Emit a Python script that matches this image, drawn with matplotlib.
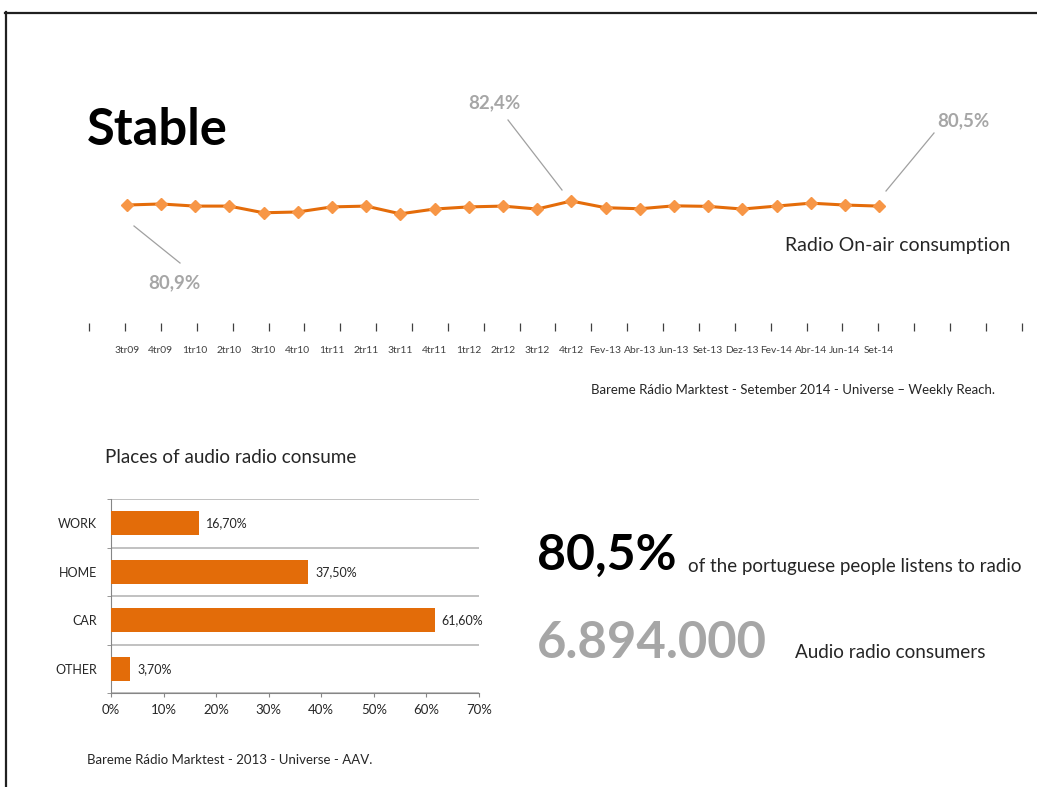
import matplotlib.pyplot as plt
from matplotlib.lines import Line2D

plt.rcParams['font.family'] = ['Lato', 'DejaVu Sans']

W, H = 1037, 787

# Radio on-air consumption (weekly reach, %)
periods = ['3tr09', '4tr09', '1tr10', '2tr10', '3tr10', '4tr10', '1tr11', '2tr11',
           '3tr11', '4tr11', '1tr12', '2tr12', '3tr12', '4tr12', 'Fev-13', 'Abr-13',
           'Jun-13', 'Set-13', 'Dez-13', 'Fev-14', 'Abr-14', 'Jun-14', 'Set-14']
reach = [80.9, 81.3, 80.5, 80.5, 78.0, 78.3, 80.2, 80.5, 77.6, 79.4, 80.2, 80.5,
         79.4, 82.4, 79.9, 79.5, 80.6, 80.4, 79.4, 80.5, 81.6, 80.9, 80.5]

# Places of audio radio consume (%)
places = ['WORK', 'HOME', 'CAR', 'OTHER']
place_share = [16.7, 37.5, 61.6, 3.7]
place_labels = ['16,70%', '37,50%', '61,60%', '3,70%']

ORANGE_LINE = '#E46C0A'
ORANGE_MARK = '#F79646'
BAR = '#E36C09'
GREY = '#A6A6A6'
DARK = '#262626'


def fx(px):
    return px / W


def fy(py):
    return 1 - py / H


def rect(left, top, right, bottom):
    return [fx(left), fy(bottom), fx(right) - fx(left), fy(top) - fy(bottom)]


fig = plt.figure(figsize=(W / 100, H / 100), dpi=100)

# frame lines (top and left)
fig.add_artist(Line2D([fx(5), fx(1037)], [fy(12.5), fy(12.5)], color='#202020', lw=1.6))
fig.add_artist(Line2D([fx(5.5), fx(5.5)], [fy(12), fy(787)], color='#202020', lw=1.6))

# --- line chart ---
x0, dx = 126.7, 34.2
ax = fig.add_axes(rect(80, 90, 1030, 327))
ax.set_xlim((80 - x0) / dx, (1030 - x0) / dx)
ax.set_ylim(35.2, 124.0)
idx = list(range(len(periods)))
ax.plot(idx, reach, color=ORANGE_LINE, lw=2.2, marker='D', ms=6,
        markerfacecolor=ORANGE_MARK, markeredgecolor=ORANGE_MARK, zorder=3)
for s in ax.spines.values():
    s.set_visible(False)
ax.set_yticks([])
ax.set_xticks(idx)
ax.set_xticklabels(periods)
ax.tick_params(axis='x', which='major', length=0, labelsize=7.4, labelcolor='#404040', pad=14)
# tick marks of the category axis sit on their own, wider spacing
tick_px = [89.3 + 35.86 * k for k in range(27)]
ax.set_xticks([(p - x0) / dx for p in tick_px], minor=True)
ax.tick_params(axis='x', which='minor', direction='inout', length=6, width=0.9,
               color='#404040')

# callouts
fig.add_artist(Line2D([fx(508), fx(562)], [fy(120), fy(190)], color='#A0A0A0', lw=0.9))
fig.add_artist(Line2D([fx(934), fx(886)], [fy(133), fy(191)], color='#A0A0A0', lw=0.9))
fig.add_artist(Line2D([fx(134), fx(180)], [fy(226), fy(263)], color='#A0A0A0', lw=0.9))

fig.text(fx(494), fy(108), '82,4%', fontsize=13.5, fontweight='bold', color=GREY,
         ha='center', va='baseline')
fig.text(fx(937), fy(126), '80,5%', fontsize=13.5, fontweight='bold', color=GREY,
         ha='left', va='baseline')
fig.text(fx(148), fy(288), '80,9%', fontsize=13.5, fontweight='bold', color=GREY,
         ha='left', va='baseline')

fig.text(fx(87), fy(145), 'Stable', fontsize=36.5, fontweight='bold', color='black',
         ha='left', va='baseline')
fig.text(fx(1010), fy(251), 'Radio On-air consumption', fontsize=14, color=DARK,
         ha='right', va='baseline')
fig.text(fx(995), fy(394), 'Bareme Rádio Marktest - Setember 2014 - Universe \u2013 Weekly Reach.',
         fontsize=9.5, color=DARK, ha='right', va='baseline')

# --- bar chart ---
fig.text(fx(105), fy(463), 'Places of audio radio consume', fontsize=13.6, color=DARK,
         ha='left', va='baseline')
bx = fig.add_axes(rect(111, 499, 479, 693))
ypos = list(range(len(places)))
bx.barh(ypos, place_share, height=0.5, color=BAR, zorder=3)
bx.set_ylim(len(places) - 0.5, -0.5)
bx.set_xlim(0, 70)
for y, v, lab in zip(ypos, place_share, place_labels):
    bx.text(v + 1.3, y, lab, fontsize=9, color=DARK, va='center', ha='left')
bx.set_yticks(ypos)
bx.set_yticklabels(places)
bx.set_yticks([i + 0.5 for i in range(-1, len(places))], minor=True)
bx.grid(which='minor', axis='y', color='#B0B0B0', lw=1.1)
bx.set_xticks(range(0, 71, 10))
bx.set_xticklabels([f'{v}%' for v in range(0, 71, 10)])
bx.tick_params(axis='y', which='major', length=0, labelsize=9, labelcolor=DARK, pad=10)
bx.tick_params(axis='y', which='minor', length=3, color='#868686')
bx.tick_params(axis='x', length=3, color='#868686', labelsize=9.5, labelcolor=DARK, pad=5)
for side in ['top', 'right']:
    bx.spines[side].set_visible(False)
bx.spines['left'].set_color('#868686')
bx.spines['bottom'].set_color('#868686')
fig.text(fx(87), fy(764), 'Bareme Rádio Marktest - 2013 - Universe - AAV.', fontsize=9.5,
         color=DARK, ha='left', va='baseline')

# --- key figures ---
fig.text(fx(537), fy(570), '80,5%', fontsize=36, fontweight='bold', color='black',
         ha='left', va='baseline')
fig.text(fx(688), fy(572), 'of the portuguese people listens to radio', fontsize=13.5,
         color=DARK, ha='left', va='baseline')
fig.text(fx(537), fy(658), '6.894.000', fontsize=36.5, fontweight='bold', color=GREY,
         ha='left', va='baseline')
fig.text(fx(795), fy(658), 'Audio radio consumers', fontsize=13.6, color=DARK,
         ha='left', va='baseline')

fig.savefig('out.png', dpi=100)
